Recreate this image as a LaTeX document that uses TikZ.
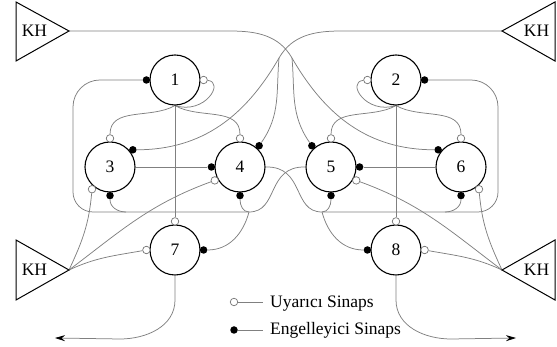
\documentclass[tikz,border=0pt]{standalone}
\usepackage{fontspec}
\setmainfont{Liberation Serif}
\usetikzlibrary{calc,arrows.meta}
\pgfdeclarelayer{background}
\pgfsetlayers{background,main}
% place a synapse dot just outside a neuron, at a given angle
\newcommand\putsyn[4]{\node[#1] (#2) at ($(#3.center)+(#4:28.6pt)$) {};}
\begin{document}
\begin{tikzpicture}[x=1pt,y=1pt,
  txt/.style={font=\fontsize{17.5}{20}\selectfont},
  neuron/.style={txt,circle,draw=black,line width=1.1pt,minimum size=50pt,inner sep=0pt,fill=white},
  wire/.style={draw=black!50,line width=0.75pt},
  exc/.style={circle,draw=black!55,line width=0.7pt,fill=white,minimum size=7.5pt,inner sep=0pt},
  inh/.style={circle,fill=black,minimum size=7.5pt,inner sep=0pt},
  khbox/.style={draw=black,line width=1pt},
  lbl/.style={txt,inner sep=0pt},
  outarrow/.style={wire,-{Stealth[length=10pt,width=6pt,color=black]}}]

\useasboundingbox (0,0) rectangle (557,347);

% ---- KH input units ----
\draw[khbox] (16,345) -- (69,316) -- (16,286) -- cycle;
\draw[khbox] (555,345) -- (502,316) -- (555,286) -- cycle;
\draw[khbox] (16,107) -- (69,77) -- (16,47) -- cycle;
\draw[khbox] (555,107) -- (502,77) -- (555,47) -- cycle;
\node[lbl] (k1) at (34.5,316) {KH};
\node[lbl] (k2) at (536.5,316) {KH};
\node[lbl] (k3) at (34.5,77) {KH};
\node[lbl] (k4) at (536.5,77) {KH};
\coordinate (a1) at (69,316);
\coordinate (a2) at (502,316);
\coordinate (a3) at (69,77);
\coordinate (a4) at (502,77);

% ---- neurons ----
\node[neuron] (n1) at (175,267) {1};
\node[neuron] (n2) at (396,267) {2};
\node[neuron] (n3) at (110,180) {3};
\node[neuron] (n4) at (240,180) {4};
\node[neuron] (n5) at (331,180) {5};
\node[neuron] (n6) at (461,180) {6};
\node[neuron] (n7) at (175,97) {7};
\node[neuron] (n8) at (396,97) {8};

% ---- synapses ----
\putsyn{inh}{d1l}{n1}{180} \putsyn{exc}{d1r}{n1}{0}
\putsyn{exc}{d2l}{n2}{180} \putsyn{inh}{d2r}{n2}{0}
\putsyn{exc}{d3t}{n3}{90} \putsyn{inh}{d3ur}{n3}{37}
\putsyn{exc}{d3ll}{n3}{231} \putsyn{inh}{d3b}{n3}{270}
\putsyn{exc}{d4t}{n4}{90} \putsyn{inh}{d4ur}{n4}{48}
\putsyn{inh}{d4l}{n4}{180} \putsyn{exc}{d4ll}{n4}{208}
\putsyn{inh}{d4b}{n4}{270}
\putsyn{exc}{d5t}{n5}{90} \putsyn{inh}{d5ul}{n5}{132}
\putsyn{inh}{d5r}{n5}{0} \putsyn{exc}{d5lr}{n5}{-28}
\putsyn{inh}{d5b}{n5}{270}
\putsyn{exc}{d6t}{n6}{90} \putsyn{inh}{d6ul}{n6}{143}
\putsyn{exc}{d6lr}{n6}{-51} \putsyn{inh}{d6b}{n6}{270}
\putsyn{exc}{d7t}{n7}{90} \putsyn{exc}{d7l}{n7}{180} \putsyn{inh}{d7r}{n7}{0}
\putsyn{exc}{d8t}{n8}{90} \putsyn{inh}{d8l}{n8}{180} \putsyn{exc}{d8r}{n8}{0}

% ---- junctions ----
\coordinate (w1) at (292,289);
\coordinate (w2) at (279,289);
\coordinate (bL) at (249,135);
\coordinate (bR) at (322,135);
\coordinate (jL) at (126,135);
\coordinate (jR) at (445,135);
\coordinate (o7) at (55,9);
\coordinate (o8) at (516,9);

\begin{pgfonlayer}{background}
% neuron 1 fan-out
\draw[wire] (n1.south) -- (d7t);
\draw[wire] (n1.south) to[out=-150,in=90] (d3t);
\draw[wire] (n1.south) to[out=-30,in=90] (d4t);
\draw[wire] (n1.south) .. controls (205,232) and (225,265) .. (d1r);
% neuron 2 fan-out
\draw[wire] (n2.south) -- (d8t);
\draw[wire] (n2.south) to[out=-30,in=90] (d6t);
\draw[wire] (n2.south) to[out=-150,in=90] (d5t);
\draw[wire] (n2.south) .. controls (366,232) and (346,265) .. (d2l);
% lateral links
\draw[wire] (n3.east) -- (d4l);
\draw[wire] (n6.west) -- (d5r);
% left inhibition bus driven by neuron 5
\draw[wire] (d1l) -- (100,267) to[out=180,in=90] (73,240) -- (73,155)
  to[out=-90,in=180] (93,135) -- (bL);
\draw[wire] (n5.west) .. controls (266,181) and (279,135) .. (bL);
\draw[wire] (d3b) to[out=-90,in=180] (jL);
\draw[wire] (d4b) to[out=-90,in=180] (bL);
\draw[wire] (bL) to[out=-105,in=0] (d7r);
% right inhibition bus driven by neuron 4
\draw[wire] (d2r) -- (471,267) to[out=0,in=90] (498,240) -- (498,155)
  to[out=-90,in=0] (478,135) -- (bR);
\draw[wire] (n4.east) .. controls (305,181) and (292,135) .. (bR);
\draw[wire] (d6b) to[out=-90,in=0] (jR);
\draw[wire] (d5b) to[out=-90,in=0] (bR);
\draw[wire] (bR) to[out=-75,in=180] (d8l);
% upper KH units
\draw[wire] (a1) -- (230,316) to[out=0,in=120] (w1) to[out=-60,in=180] (d6ul);
\draw[wire] (w1) to[out=-85,in=125] (d5ul);
\draw[wire] (a2) -- (341,316) to[out=180,in=60] (w2) to[out=-120,in=0] (d3ur);
\draw[wire] (w2) to[out=-95,in=55] (d4ur);
% lower KH units
\draw[wire] (a3) to[out=25,in=190] (d7l);
\draw[wire] (a3) to[out=37,in=200] (d4ll);
\draw[wire] (a3) to[out=65,in=-95] (d3ll);
\draw[wire] (a4) to[out=155,in=-10] (d8r);
\draw[wire] (a4) to[out=143,in=-20] (d5lr);
\draw[wire] (a4) to[out=115,in=-85] (d6lr);
% outputs
\draw[outarrow] (n7.south) -- (175,47) to[out=-90,in=0] (120,8) -- (o7);
\draw[outarrow] (n8.south) -- (396,47) to[out=-90,in=180] (451,8) -- (o8);
\end{pgfonlayer}

% ---- legend ----
\node[exc] (le) at (234,45) {};
\coordinate (le2) at (263,45);
\draw[wire] (le) -- (le2);
\node[lbl,anchor=base west] (lt1) at (270,39) {Uyarıcı Sinaps};
\node[inh] (li) at (234,17) {};
\coordinate (li2) at (263,17);
\draw[wire] (li) -- (li2);
\node[lbl,anchor=base west] (lt2) at (270,12) {Engelleyici Sinaps};
\end{tikzpicture}
\end{document}
